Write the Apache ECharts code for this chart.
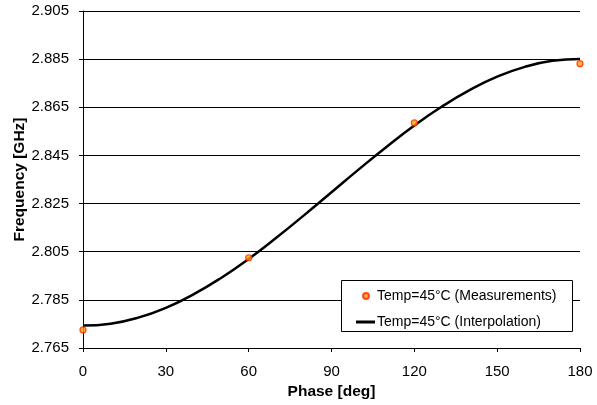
<!DOCTYPE html>
<html>
<head>
<meta charset="utf-8">
<script src="https://cdn.jsdelivr.net/npm/echarts@6/dist/echarts.min.js"></script>
<style>
  html, body { margin: 0; padding: 0; background: #fff; }
  #chart { width: 597px; height: 405px; }
</style>
</head>
<body>
<div id="chart"></div>
<script>
// measured points
const measPhase = [0, 60, 120, 180]
const measFreq = [2.7725, 2.8025, 2.8585, 2.8831]

// interpolation curve, every 10 deg
const curvePhase = [0, 10, 20, 30, 40, 50, 60, 70, 80, 90, 100, 110, 120, 130, 140, 150, 160, 170, 180]
const curveFreq = [2.7743, 2.7751, 2.7776, 2.7817, 2.7873, 2.7941, 2.8020, 2.8108, 2.8201, 2.8297,
  2.8393, 2.8486, 2.8574, 2.8653, 2.8721, 2.8777, 2.8818, 2.8843, 2.8851]

const measName = 'Temp=45°C (Measurements)'
const curveName = 'Temp=45°C (Interpolation)'

const font = 'Liberation Sans, Arial, sans-serif'
const legendText = { fontFamily: font, fontSize: 14, color: '#000' }

let myChart = echarts.init(document.getElementById('chart'))
myChart.setOption({
  animation: false,
  textStyle: { fontFamily: font },
  grid: { left: 83, top: 11, right: 17, bottom: 57, containLabel: false, outerBoundsMode: 'none' },
  xAxis: {
    type: 'value',
    min: 0,
    max: 180,
    interval: 30,
    name: 'Phase [deg]',
    nameLocation: 'middle',
    nameGap: 36,
    nameMoveOverlap: false,
    nameTextStyle: { fontFamily: font, fontSize: 15.5, fontWeight: 'bold', color: '#000' },
    axisLine: { lineStyle: { color: '#000', width: 1 } },
    axisTick: { show: true, length: 4, lineStyle: { color: '#000' } },
    axisLabel: { fontFamily: font, fontSize: 15, color: '#000', margin: 16 },
    splitLine: { show: false },
  },
  yAxis: {
    type: 'value',
    min: 2.765,
    max: 2.905,
    interval: 0.02,
    name: 'Frequency [GHz]',
    nameLocation: 'middle',
    nameGap: 55,
    nameMoveOverlap: false,
    nameTextStyle: { fontFamily: font, fontSize: 15.5, fontWeight: 'bold', color: '#000' },
    axisLine: { show: true, lineStyle: { color: '#000', width: 1 } },
    axisTick: { show: true, length: 4, lineStyle: { color: '#000' } },
    axisLabel: {
      fontFamily: font,
      fontSize: 15,
      color: '#000',
      margin: 14,
      formatter: (v) => v.toFixed(3),
    },
    splitLine: { show: true, lineStyle: { color: '#000', width: 1 } },
  },
  // legend box border
  graphic: [
    {
      type: 'rect',
      z: 3,
      shape: { x: 341.5, y: 280.5, width: 231, height: 51 },
      style: { fill: '#fff', stroke: '#000', lineWidth: 1 },
    },
  ],
  legend: [
    {
      left: 362,
      top: 289,
      padding: 0,
      itemWidth: 18,
      itemHeight: 6,
      textStyle: Object.assign({ padding: [0, 0, 0, -3] }, legendText),
      data: [{ name: measName, icon: 'circle' }],
    },
    {
      left: 356,
      top: 315,
      padding: 0,
      itemWidth: 19,
      itemHeight: 3,
      textStyle: Object.assign({ padding: [0, 0, 0, -3] }, legendText),
      data: [{ name: curveName, icon: 'rect' }],
    },
  ],
  series: [
    {
      name: curveName,
      type: 'line',
      data: curvePhase.map((p, i) => [p, curveFreq[i]]),
      smooth: true,
      symbol: 'none',
      lineStyle: { color: '#000', width: 2.5 },
      itemStyle: { color: '#000' },
      z: 2,
    },
    {
      name: measName,
      type: 'scatter',
      data: measPhase.map((p, i) => [p, measFreq[i]]),
      symbol: 'circle',
      symbolSize: 6,
      itemStyle: { color: '#FFA500', borderColor: '#FF2200', borderWidth: 1.2 },
      z: 3,
    },
  ],
})
</script>
</body>
</html>
